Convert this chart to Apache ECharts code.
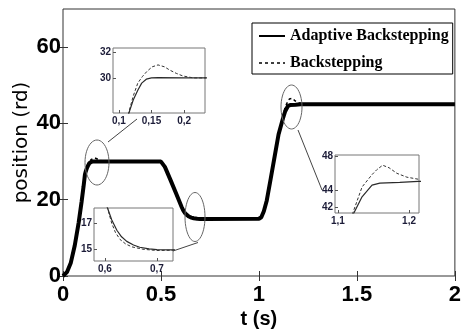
<!DOCTYPE html>
<html>
<head>
<meta charset="utf-8">
<script src="https://cdn.jsdelivr.net/npm/echarts@6/dist/echarts.min.js"></script>
<style>
  html, body { margin: 0; padding: 0; background: #fff; }
  #chart { width: 464px; height: 335px; }
</style>
</head>
<body>
<div id="chart"></div>
<script>
// Adaptive Backstepping (solid) - time and position
const adaptiveT = [0, 0.02, 0.04, 0.06, 0.08, 0.095, 0.105, 0.112, 0.116, 0.122, 0.129, 0.135, 0.142, 0.15, 0.16, 0.2,
  0.5, 0.51, 0.52, 0.55, 0.58, 0.605, 0.613, 0.623, 0.632, 0.642, 0.655, 0.667, 0.685, 0.7, 0.73, 1.0,
  1.012, 1.025, 1.04, 1.06, 1.08, 1.1, 1.1225, 1.134, 1.148, 1.159, 1.187, 1.213, 1.3, 2.0];
const adaptiveY = [0, 1, 3.5, 8, 14, 19.5, 23.5, 26.6, 27.4, 28.3, 29.05, 29.6, 29.9, 30.0, 30.02, 30.0,
  30, 29.7, 28.6, 25, 21.3, 18.15, 17.25, 16.45, 15.95, 15.6, 15.32, 15.15, 15.03, 14.97, 14.95, 15,
  15.4, 17, 19.8, 25.5, 31.3, 37.1, 41.3, 43.2, 44.57, 44.8, 44.9, 45.0, 45.0, 45.0];

// Backstepping (dashed)
const backT = [0, 0.02, 0.04, 0.06, 0.08, 0.095, 0.105, 0.112, 0.116, 0.122, 0.129, 0.136, 0.143, 0.151, 0.16, 0.17,
  0.178, 0.188, 0.198, 0.214, 0.24, 0.5, 0.51, 0.52, 0.55, 0.58, 0.605, 0.613, 0.62, 0.629, 0.64, 0.652, 0.673, 0.7, 0.73, 0.8, 1.0,
  1.012, 1.025, 1.04, 1.06, 1.08, 1.1, 1.121, 1.134, 1.148, 1.155, 1.163, 1.172, 1.183, 1.197, 1.213, 1.25, 1.3, 2.0];
const backY = [0, 1, 3.5, 8, 14, 19.5, 23.5, 26.6, 27.5, 28.6, 29.6, 30.1, 30.5, 30.85, 31.0, 30.85,
  30.6, 30.35, 30.15, 30.0, 30.0, 30, 29.7, 28.6, 25, 21.3, 18.15, 17.0, 16.3, 15.75, 15.4, 15.18, 15.0, 14.9, 14.92, 15, 15,
  15.4, 17, 19.8, 25.5, 31.3, 37.1, 41.3, 44.35, 45.8, 46.4, 46.9, 46.6, 45.95, 45.5, 45.26, 45.05, 45.0, 45.0];

const xTicks = [0, 0.5, 1, 1.5, 2];
const yTicks = [0, 20, 40, 60];
const inset1XTicks = [0.1, 0.15, 0.2];
const inset1YTicks = [30, 32];
const inset2XTicks = [0.6, 0.7];
const inset2YTicks = [15, 17];
const inset3XTicks = [1.1, 1.2];
const inset3YTicks = [42, 44, 48];

const pairs = (ts, ys) => ts.map((t, i) => [t, ys[i]]);
const adaptive = pairs(adaptiveT, adaptiveY);
const back = pairs(backT, backY);

const comma = v => String(v).replace('.', ',');
const insetLabel = {fontFamily: 'Liberation Sans', fontWeight: 'bold', fontSize: 10, color: '#1c1c38'};

function ellipse(cx, cy, rx, ry) {
  const pts = [];
  for (let i = 0; i < 48; i++) {
    const a = i / 48 * Math.PI * 2;
    pts.push([cx + rx * Math.cos(a), cy + ry * Math.sin(a)]);
  }
  return {type: 'polygon', shape: {points: pts}, style: {fill: null, stroke: '#666', lineWidth: 1}, z: 100};
}
const connector = (x1, y1, x2, y2) => ({type: 'line', shape: {x1, y1, x2, y2}, style: {stroke: '#444', lineWidth: 1}, z: 100});

function insetX(grid, min, max, ticks) {
  return {
    gridIndex: grid, type: 'value', min, max,
    axisLine: {show: false}, splitLine: {show: false},
    axisTick: {show: true, inside: true, length: 3, customValues: ticks, lineStyle: {color: '#555'}},
    axisLabel: Object.assign({customValues: ticks, margin: 3, formatter: comma}, insetLabel)
  };
}
function insetY(grid, min, max, ticks) {
  return {
    gridIndex: grid, type: 'value', min, max,
    axisLine: {show: false}, splitLine: {show: false},
    axisTick: {show: true, inside: true, length: 3, customValues: ticks, lineStyle: {color: '#555'}},
    axisLabel: Object.assign({customValues: ticks, margin: 2, formatter: comma}, insetLabel)
  };
}

const bigLabel = {fontFamily: 'Liberation Sans', fontWeight: 'bold', fontSize: 22, color: '#000'};

const series = [];
[0, 2, 3, 4].forEach(ax => {
  const main = ax === 0;
  series.push({
    name: 'Adaptive Backstepping', type: 'line', xAxisIndex: ax, yAxisIndex: ax,
    data: adaptive, symbol: 'none', itemStyle: {color: '#000'},
    lineStyle: {color: main ? '#000' : '#2a2a2a', width: main ? 4 : 1.2, type: 'solid'},
    z: 3
  });
  series.push({
    name: 'Backstepping', type: 'line', xAxisIndex: ax, yAxisIndex: ax,
    data: back, symbol: 'none', itemStyle: {color: '#000'},
    lineStyle: {color: main ? '#000' : '#333', width: main ? 1.5 : 1, type: main ? [3, 3] : [3, 2]},
    z: 4
  });
});

const chart = echarts.init(document.getElementById('chart'));
chart.setOption({
  animation: false,
  backgroundColor: '#fff',
  grid: [
    {left: 63, top: 9, width: 393, height: 267, show: true, borderColor: '#333', borderWidth: 1, backgroundColor: 'transparent'},
    {left: 113, top: 48, width: 92, height: 65, show: true, borderColor: '#777', borderWidth: 1, backgroundColor: 'transparent'},
    {left: 94, top: 208, width: 79, height: 53, show: true, borderColor: '#777', borderWidth: 1, backgroundColor: 'transparent'},
    {left: 335, top: 155, width: 84, height: 58, show: true, borderColor: '#777', borderWidth: 1, backgroundColor: 'transparent'}
  ],
  xAxis: [
    {
      gridIndex: 0, type: 'value', min: 0, max: 2, interval: 0.5,
      name: 't (s)', nameLocation: 'middle', nameGap: 33, nameMoveOverlap: false,
      nameTextStyle: {fontFamily: 'Liberation Sans', fontWeight: 'bold', fontSize: 20, color: '#000'},
      axisLine: {show: false}, splitLine: {show: false},
      axisTick: {show: true, inside: true, length: 5, customValues: xTicks, lineStyle: {color: '#333'}},
      axisLabel: Object.assign({customValues: xTicks, margin: 8}, bigLabel)
    },
    {
      gridIndex: 0, type: 'value', position: 'top', min: 0, max: 2,
      axisLine: {show: false}, splitLine: {show: false}, axisLabel: {show: false},
      axisTick: {show: true, inside: true, length: 5, customValues: xTicks, lineStyle: {color: '#333'}}
    },
    insetX(1, 0.091, 0.232, inset1XTicks),
    insetX(2, 0.579, 0.731, inset2XTicks),
    insetX(3, 1.096, 1.214, inset3XTicks)
  ],
  yAxis: [
    {
      gridIndex: 0, type: 'value', min: 0, max: 70,
      name: 'position (rd)', nameLocation: 'middle', nameGap: 31, nameRotate: 90, nameMoveOverlap: false,
      nameTextStyle: {fontFamily: 'DejaVu Sans', fontSize: 20, color: '#000'},
      axisLine: {show: false}, splitLine: {show: false},
      axisTick: {show: true, inside: true, length: 5, customValues: yTicks, lineStyle: {color: '#333'}},
      axisLabel: Object.assign({customValues: yTicks, margin: 2}, bigLabel)
    },
    {
      gridIndex: 0, type: 'value', position: 'right', min: 0, max: 70,
      axisLine: {show: false}, splitLine: {show: false}, axisLabel: {show: false},
      axisTick: {show: true, inside: true, length: 5, customValues: yTicks, lineStyle: {color: '#333'}}
    },
    insetY(1, 27.3, 32.3, inset1YTicks),
    insetY(2, 14.1, 18.15, inset2YTicks),
    insetY(3, 41.3, 48.1, inset3YTicks)
  ],
  legend: {
    left: 252, top: 23, orient: 'vertical', selectedMode: false,
    backgroundColor: '#fff', borderColor: '#000', borderWidth: 1, borderRadius: 0,
    padding: [5, 4, 3, 6], itemGap: 11, itemWidth: 26, itemHeight: 14,
    itemStyle: {opacity: 0},
    textStyle: {fontFamily: 'Liberation Serif', fontWeight: 'bold', fontSize: 16, color: '#000'},
    data: [
      {name: 'Adaptive Backstepping', lineStyle: {width: 2, color: '#000'}},
      {name: 'Backstepping', lineStyle: {width: 1.5, color: '#000'}}
    ]
  },
  graphic: [
    ellipse(97, 162.5, 12, 22.5),
    ellipse(195, 217, 10, 24.5),
    ellipse(291.5, 107, 10.5, 22),
    connector(108, 142, 137, 119),
    connector(173, 251, 198, 242.5),
    connector(298, 130, 322, 190)
  ],
  series
});
</script>
</body>
</html>
